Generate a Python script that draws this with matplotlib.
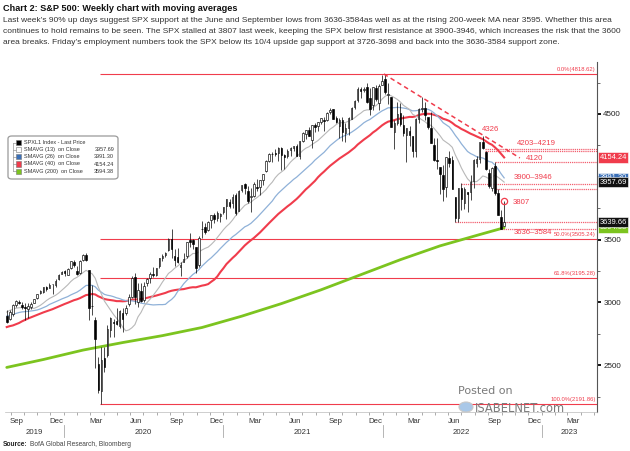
import matplotlib
matplotlib.use('Agg')
import matplotlib.pyplot as plt
import matplotlib.transforms as mtransforms
from matplotlib.patches import FancyBboxPatch, Rectangle
import numpy as np
import pandas as pd

FONT = ['Liberation Sans', 'DejaVu Sans']
plt.rcParams['font.family'] = FONT

# ---------------- data ----------------
# weekly closes before the visible window (used only for the moving averages)
pre_close = [2723, 2781, 2736, 2633, 2760, 2633, 2600, 2417, 2486, 2532, 2596, 2671, 2665,
             2707, 2708, 2776, 2793, 2804, 2743, 2822, 2800, 2834, 2893, 2907, 2905, 2940,
             2946, 2881, 2860, 2826, 2752, 2873, 2887, 2950, 2942, 2990, 3014, 2977, 3026,
             2932, 2919, 2889]
first_week = '2019-08-23'

opens = [2890, 2866, 2910, 2980, 3001, 2983, 2967, 2945, 2963, 2996, 3032, 3078, 3080, 3122,
         3118, 3144, 3141, 3183, 3227,
         3247, 3218, 3273, 3324, 3248, 3236, 3335, 3380, 3257, 2974, 2863, 2509, 2291, 2555,
         2578, 2782, 2845, 2855, 2815, 2915, 2913, 2990, 3039, 3199, 3001, 3094, 3018, 3155,
         3191, 3224, 3219, 3288, 3356, 3380, 3418, 3508, 3370, 3364, 3285, 3325, 3366, 3500,
         3493, 3441, 3296, 3584, 3600, 3579, 3654, 3699, 3675, 3684, 3723,
         3764, 3803, 3788, 3856, 3731, 3892, 3939, 3885, 3842, 3844, 3914, 3916, 3975, 4044,
         4124, 4183, 4186, 4192, 4228, 4170, 4168, 4217, 4230, 4248, 4166, 4285, 4344, 4372,
         4296, 4410, 4407, 4437, 4450, 4450, 4514, 4536, 4469, 4402, 4449, 4348, 4385, 4464,
         4553, 4610, 4697, 4689, 4712, 4627, 4572, 4707, 4587, 4733,
         4778, 4655, 4632, 4356, 4432, 4506, 4412, 4332, 4364, 4328, 4202, 4462, 4541, 4548,
         4474, 4385, 4256, 4130, 4081, 4013, 3920, 4151, 4134, 3838, 3675, 3913, 3792, 3880,
         3880, 3966, 4113, 4141, 4276, 4195, 4034, 3910, 4084, 3873, 3682, 3610]
highs = [2939, 2940, 2985, 3021, 3022, 2999, 2993, 2993, 3004, 3027, 3067, 3097, 3120, 3127,
         3154, 3148, 3183, 3226, 3247,
         3258, 3275, 3330, 3337, 3293, 3341, 3385, 3393, 3259, 3137, 2883, 2562, 2641, 2641,
         2819, 2880, 2871, 2955, 2938, 2955, 2981, 3068, 3212, 3233, 3155, 3155, 3165, 3198,
         3238, 3280, 3272, 3352, 3387, 3399, 3509, 3588, 3425, 3429, 3320, 3397, 3483, 3550,
         3502, 3441, 3529, 3646, 3628, 3645, 3699, 3712, 3726, 3711, 3760,
         3826, 3823, 3861, 3870, 3894, 3937, 3950, 3929, 3914, 3960, 3983, 3978, 4020, 4130,
         4192, 4195, 4218, 4238, 4238, 4185, 4218, 4234, 4249, 4261, 4287, 4356, 4372, 4393,
         4415, 4429, 4440, 4468, 4480, 4513, 4546, 4537, 4486, 4466, 4476, 4429, 4475, 4559,
         4608, 4718, 4714, 4718, 4744, 4705, 4713, 4731, 4741, 4808,
         4819, 4749, 4632, 4453, 4595, 4590, 4490, 4385, 4402, 4327, 4465, 4546, 4637, 4593,
         4471, 4513, 4308, 4308, 4081, 4090, 4158, 4204, 4168, 3838, 3914, 3951, 3918, 3880,
         4013, 4141, 4167, 4280, 4325, 4204, 4062, 4076, 4120, 3900, 3737, 3807]
lows = [2835, 2856, 2891, 2964, 2985, 2946, 2856, 2874, 2945, 2991, 3023, 3066, 3075, 3091,
        3113, 3070, 3124, 3180, 3223,
        3210, 3214, 3262, 3281, 3214, 3223, 3331, 3328, 2856, 2901, 2478, 2280, 2192, 2447,
        2562, 2727, 2727, 2816, 2798, 2766, 2902, 2969, 3032, 2984, 2965, 3004, 2999, 3127,
        3153, 3200, 3209, 3273, 3330, 3363, 3407, 3350, 3293, 3313, 3209, 3323, 3354, 3441,
        3425, 3234, 3279, 3511, 3545, 3571, 3594, 3633, 3645, 3636, 3700,
        3663, 3749, 3750, 3694, 3725, 3879, 3865, 3789, 3723, 3838, 3883, 3853, 3938, 4035,
        4118, 4118, 4164, 4128, 4057, 4062, 4152, 4168, 4208, 4165, 4144, 4275, 4300, 4321,
        4233, 4360, 4367, 4417, 4368, 4447, 4503, 4458, 4427, 4306, 4288, 4278, 4329, 4460,
        4537, 4595, 4630, 4672, 4585, 4495, 4531, 4600, 4531, 4733,
        4663, 4582, 4395, 4222, 4415, 4401, 4327, 4115, 4249, 4157, 4161, 4425, 4517, 4450,
        4381, 4267, 4128, 4062, 3859, 3811, 3838, 4074, 3900, 3637, 3640, 3738, 3742, 3722,
        3818, 3910, 4080, 4112, 4218, 4057, 3907, 3887, 3856, 3693, 3584, 3611]
closes = [2847, 2926, 2979, 3007, 2992, 2962, 2952, 2970, 2986, 3023, 3067, 3093, 3120, 3110,
          3141, 3146, 3169, 3221, 3240,
          3235, 3265, 3330, 3295, 3226, 3328, 3380, 3338, 2954, 2972, 2711, 2305, 2541, 2489,
          2790, 2875, 2837, 2831, 2930, 2864, 2955, 3044, 3194, 3041, 3098, 3009, 3130, 3185,
          3225, 3216, 3271, 3351, 3373, 3397, 3508, 3427, 3341, 3319, 3298, 3348, 3477, 3484,
          3465, 3270, 3510, 3585, 3558, 3638, 3699, 3663, 3709, 3703, 3756,
          3825, 3768, 3841, 3714, 3887, 3934, 3907, 3811, 3842, 3943, 3913, 3975, 4020, 4129,
          4185, 4180, 4181, 4233, 4174, 4156, 4204, 4230, 4247, 4166, 4281, 4352, 4370, 4327,
          4412, 4395, 4437, 4468, 4442, 4509, 4535, 4459, 4433, 4455, 4357, 4391, 4471, 4545,
          4605, 4697, 4683, 4698, 4595, 4538, 4712, 4620, 4726, 4766,
          4677, 4663, 4398, 4432, 4500, 4419, 4349, 4385, 4329, 4204, 4463, 4543, 4546, 4488,
          4393, 4272, 4132, 4123, 4024, 3901, 4158, 4109, 3901, 3675, 3912, 3825, 3899, 3863,
          3962, 4130, 4145, 4280, 4228, 4058, 3924, 4067, 3873, 3693, 3586, 3639.66]

ma200_dates = ['2019-08-23', '2019-11-15', '2020-02-14', '2020-05-15', '2020-08-14',
               '2020-11-13', '2021-02-12', '2021-05-14', '2021-08-13', '2021-11-12',
               '2022-02-11', '2022-05-13', '2022-08-12', '2022-10-07']
ma200_vals = [2482, 2545, 2620, 2680, 2735, 2800, 2890, 2990, 3100, 3220, 3340, 3450, 3540,
              3594.38]

fib_levels = [4818.62, 3505.24, 3195.28, 2191.86]
fib_labels = ['0.0%(4818.62)', '50.0%(3505.24)', '61.8%(3195.28)', '100.0%(2191.86)']
fib_start = '2020-03-23'

levels = [4219, 4203, 4120, 3946, 3900, 3636, 3584]
level_start = ['2022-08-24', '2022-08-24', '2022-09-16', '2022-07-01', '2022-09-19',
               '2022-06-17', '2022-09-30']
level_labels = ['4326', '4203\u20134219', '4120', '3900\u20133946', '3807', '3636\u20133584']
level_label_pos = [('2022-09-05', 4380), ('2022-12-19', 4262), ('2022-12-16', 4142),
                   ('2022-12-12', 3998), ('2022-11-15', 3792), ('2022-12-12', 3553)]

trend_dates = ['2022-01-04', '2022-11-12']
trend_vals = [4818.62, 4150]

legend_names = ['SPXL1 Index - Last Price', 'SMAVG (13)  on Close', 'SMAVG (26)  on Close',
                'SMAVG (40)  on Close', 'SMAVG (200)  on Close']
legend_values = ['', '3957.69', '3991.30', '4154.24', '3594.38']

month_names = {3: 'Mar', 6: 'Jun', 9: 'Sep', 12: 'Dec'}

# ---------------- figure ----------------
W, H = 630, 451
fig = plt.figure(figsize=(W / 100, H / 100), dpi=100)

def fx(x):
    return x / W

def fy(y):
    return 1 - y / H

RED = '#f03c4c'
LRED = '#f26070'
BLUE = '#3b70b8'
GREEN = '#7cc41f'
GREY13 = '#b8b8b8'
BLUE26 = '#8fb1d8'

ax = fig.add_axes([fx(5), fy(412), fx(597 - 5), (412 - 62) / H])

dates = pd.date_range(first_week, periods=len(closes), freq='W-FRI')
allc = pd.Series(pre_close + closes)
n = len(closes)
ma13 = allc.rolling(13).mean().values[-n:]
ma26 = allc.rolling(26).mean().values[-n:]
ma40 = allc.rolling(40).mean().values[-n:]

o = np.array(opens, float)
h = np.array(highs, float)
l = np.array(lows, float)
c = np.array(closes, float)

# moving averages
ax.plot(pd.to_datetime(ma200_dates), ma200_vals, color=GREEN, lw=2.0, zorder=3,
        solid_capstyle='round')
ax.plot(dates, ma40, color=RED, lw=1.5, zorder=3)
ax.plot(dates, ma26, color=BLUE26, lw=0.9, zorder=3)
ax.plot(dates, ma13, color=GREY13, lw=0.8, zorder=3)

# candles
ax.vlines(dates, l, h, color='black', lw=0.5, zorder=4)
up = c >= o
bottoms = np.minimum(o, c)
heights = np.maximum(np.abs(c - o), 3)
ax.bar(dates[up], heights[up], bottom=bottoms[up], width=3.5, color='white',
       edgecolor='black', linewidth=0.45, zorder=5)
ax.bar(dates[~up], heights[~up], bottom=bottoms[~up], width=3.5, color='black',
       edgecolor='black', linewidth=0.45, zorder=5)

xmin = pd.Timestamp('2019-08-19')
xmax = pd.Timestamp('2023-05-08')
ax.set_xlim(xmin, xmax)
ax.set_ylim(2127, 4914)

# fib lines
for lev, lab in zip(fib_levels, fib_labels):
    ax.hlines(lev, pd.Timestamp(fib_start), xmax, color=RED, lw=0.8, zorder=2)
    ax.text(0.998, lev + 12, lab, transform=mtransforms.blended_transform_factory(
        ax.transAxes, ax.transData), ha='right', va='bottom', fontsize=4.2, color=RED,
        zorder=6)

# resistance / support dotted levels
for lev, st in zip(levels, level_start):
    ax.hlines(lev, pd.Timestamp(st), xmax, color=LRED, lw=0.9, linestyles=(0, (1, 0.7)),
              zorder=2)
for lab, (d, v) in zip(level_labels, level_label_pos):
    ax.text(pd.Timestamp(d), v, lab, fontsize=5.6, color=RED, ha='center', va='center',
            zorder=6)

# trend line
ax.plot(pd.to_datetime(trend_dates), trend_vals, color=RED, lw=1.1,
        linestyle=(0, (3, 2.2)), zorder=6)

# circle at the recent high
ax.plot([dates[-1]], [highs[-1]], marker='o', ms=4.5, mfc='none', mec=RED, mew=0.9,
        zorder=7)

# axes styling
for s in ['top', 'left']:
    ax.spines[s].set_visible(False)
ax.spines['right'].set_color('#555555')
ax.spines['right'].set_linewidth(0.8)
ax.spines['bottom'].set_color('#bbbbbb')
ax.spines['bottom'].set_linewidth(0.5)

ax.yaxis.tick_right()
ax.set_yticks([2500, 3000, 3500, 4000, 4500])
ax.set_yticks(np.arange(2250, 4900, 500), minor=True)
ax.tick_params(axis='y', which='major', length=3, width=1.3, color='black', labelsize=5.8,
               pad=1.5, labelcolor='#222222')
ax.tick_params(axis='y', which='minor', length=2, width=0.6, color='#555555')

# x ticks: month labels centred mid-month, minor monthly ticks
major = [pd.Timestamp(y, m, 15) for y in range(2019, 2024) for m in (3, 6, 9, 12)
         if xmin <= pd.Timestamp(y, m, 15) <= xmax]
ax.set_xticks(major)
ax.set_xticklabels([month_names[d.month] for d in major])
minor = pd.date_range('2019-09-01', '2023-05-01', freq='MS')
ax.set_xticks(minor, minor=True)
ax.tick_params(axis='x', which='major', length=0, labelsize=5.6, pad=4.5,
               labelcolor='#333333')
ax.tick_params(axis='x', which='minor', length=2.5, width=0.5, color='#888888')

bt = mtransforms.blended_transform_factory(ax.transData, ax.transAxes)
year_pos = {'2019': pd.Timestamp('2019-10-25'), '2020': pd.Timestamp('2020-07-01'),
            '2021': pd.Timestamp('2021-07-01'), '2022': pd.Timestamp('2022-07-01'),
            '2023': pd.Timestamp('2023-03-05')}
for yl, d in year_pos.items():
    ax.text(d, -0.058, yl, transform=bt, ha='center', va='center', fontsize=5.6,
            color='#333333')
for yr in (2020, 2021, 2022, 2023):
    ax.plot([pd.Timestamp(yr, 1, 1)] * 2, [-0.036, -0.072], transform=bt, color='#aaaaaa',
            lw=0.6, clip_on=False)

# right-hand value tags
rt = mtransforms.blended_transform_factory(ax.transAxes, ax.transData)
tags = [(4154.24, '4154.24', RED, 'white'), (3991.30, '3991.30', BLUE, 'white'),
        (3957.69, '3957.69', '#111111', 'white'), (3594.38, '3594.38', GREEN, 'white'),
        (3639.66, '3639.66', '#111111', 'white')]
for i, (v, t, fc, tc) in enumerate(tags):
    ax.text(1.004, v, t, transform=rt, ha='left', va='center', fontsize=5.4, color=tc,
            zorder=20 + i, clip_on=False,
            bbox=dict(boxstyle='square,pad=0.22', fc=fc, ec='white', lw=0.4))

# legend box
lg = FancyBboxPatch((fx(8), fy(179)), fx(110), (179 - 136) / H,
                    boxstyle='round,pad=0,rounding_size=0.006', transform=fig.transFigure,
                    fc='white', ec='#9a9a9a', lw=0.9, zorder=30)
fig.patches.append(lg)
rows = [142.5, 149.5, 156.7, 164, 171.3]
sq_cols = ['black', 'white', BLUE, RED, GREEN]
fig.lines.append(plt.Line2D([fx(12.5)] * 2, [fy(rows[0]), fy(rows[-1])], color='#999999',
                            lw=0.5, transform=fig.transFigure, zorder=31))
for r, col, name, val in zip(rows, sq_cols, legend_names, legend_values):
    fig.lines.append(plt.Line2D([fx(12.5), fx(16)], [fy(r)] * 2, color='#999999', lw=0.5,
                                transform=fig.transFigure, zorder=31))
    fig.patches.append(Rectangle((fx(16), fy(r + 2.6)), fx(5.2), 5.2 / H, fc=col,
                                 ec='#777777', lw=0.4, transform=fig.transFigure,
                                 zorder=32))
    fig.text(fx(24.5), fy(r), name, fontsize=4.0, color='#333333', va='center', ha='left',
             zorder=33)
    if val:
        fig.text(fx(114), fy(r), val, fontsize=4.0, color='#333333', va='center',
                 ha='right', zorder=33)

# title and description
fig.text(fx(3), fy(8.5), 'Chart 2: S&P 500: Weekly chart with moving averages',
         fontsize=6.6, fontweight='bold', color='#111111', va='center', ha='left')
desc = ["Last week\u2019s 90% up days suggest SPX support at the June and September lows from "
        "3636-3584as well as at the rising 200-week MA near 3595. Whether this area",
        "continues to hold remains to be seen. The SPX stalled at 3807 last week, keeping the "
        "SPX below first resistance at 3900-3946, which increases the risk that the 3600",
        "area breaks. Friday\u2019s employment numbers took the SPX below its 10/4 upside gap "
        "support at 3726-3698 and back into the 3636-3584 support zone."]
for i, line in enumerate(desc):
    fig.text(fx(3), fy(20 + 11.5 * i), line, fontsize=6.05, color='#333333', va='center',
             ha='left')

# watermark
fig.text(fx(458), fy(391), 'Posted on', fontsize=8.0, color='#7a7a7a', va='center',
         ha='left', family=['DejaVu Sans'])
fig.text(fx(475), fy(408), 'ISABELNET.com', fontsize=8.3, color='#7a7a7a', va='center',
         ha='left', family=['DejaVu Sans'])
fig.patches.append(plt.Circle((fx(466), fy(407)), 7 / W, transform=fig.transFigure,
                              fc='#a9c8e8', ec='#c8c8c8', lw=0.8, zorder=2))

# source
fig.text(fx(3), fy(444), 'Source:', fontsize=4.8, fontweight='bold', color='#222222',
         va='center', ha='left')
fig.text(fx(29.5), fy(444), 'BofA Global Research, Bloomberg', fontsize=4.8,
         color='#444444', va='center', ha='left')

fig.savefig('out.png', dpi=100)
